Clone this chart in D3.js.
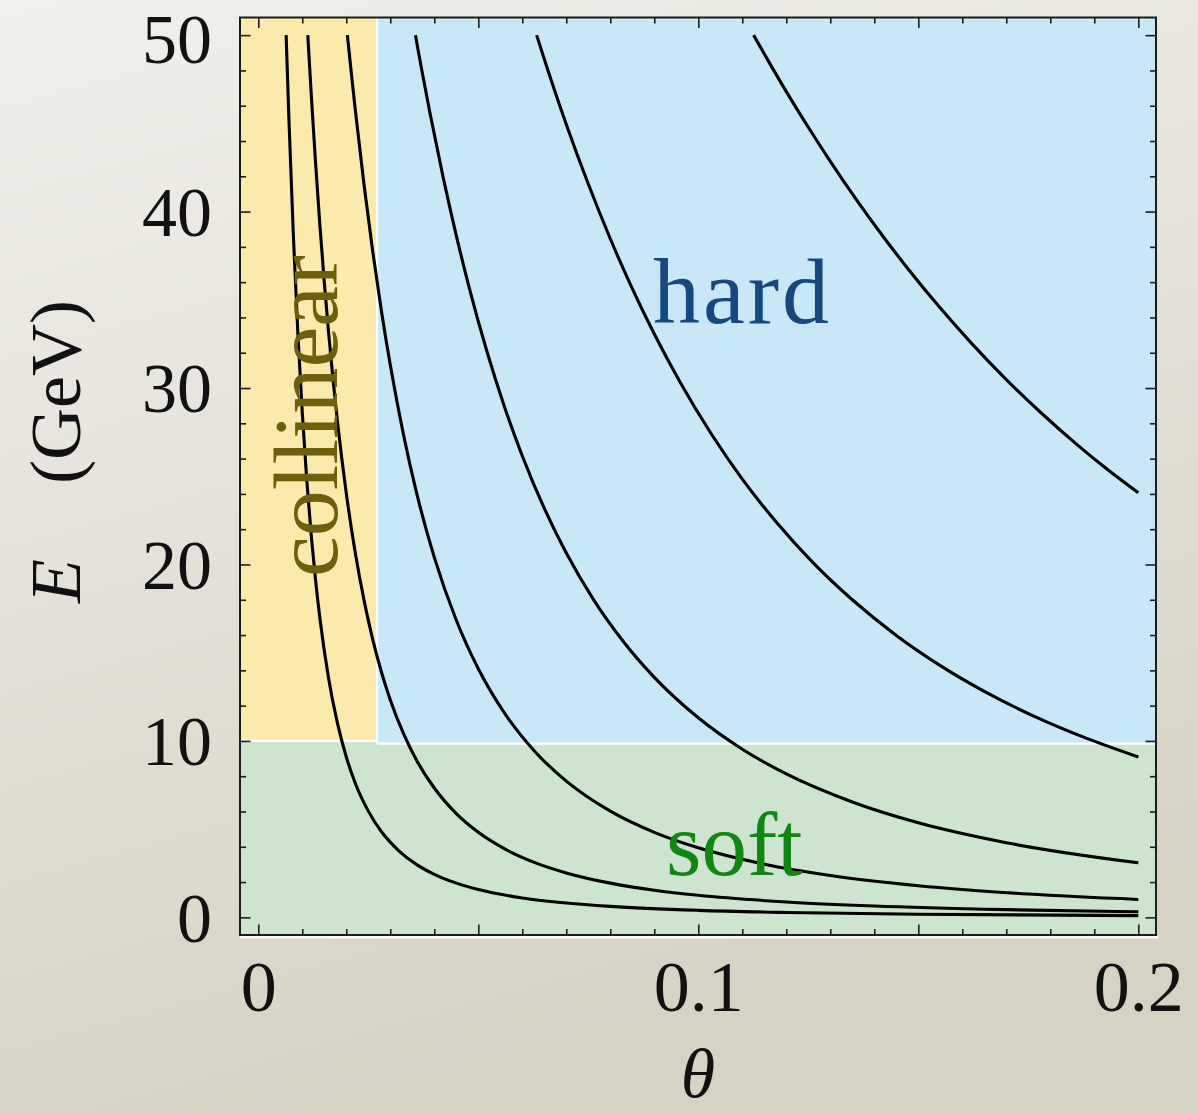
<!DOCTYPE html>
<html>
<head>
<meta charset="utf-8">
<script src="https://cdn.jsdelivr.net/npm/d3@7"></script>
<style>
  html, body { margin: 0; padding: 0; }
  svg { display: block; }
</style>
</head>
<body>
<svg id="chart" width="1198" height="1113"></svg>
<script>
// ---------- data : [theta, E] ----------
const curve1 = [[0.006325,50],[0.007,44.94],[0.008,38.46],[0.009,33.06],[0.010,28.57],[0.011,24.84],[0.012,21.74],[0.013,19.14],[0.014,16.95],[0.016,13.51],[0.018,10.99],[0.020,9.09],[0.022,7.63],[0.025,6.02],[0.028,4.85],[0.032,3.76],[0.036,2.99],[0.040,2.44],[0.045,1.94],[0.050,1.575],[0.060,1.099],[0.070,0.81],[0.080,0.621],[0.100,0.398],[0.120,0.277],[0.150,0.178],[0.200,0.10]];
const curve2 = [[0.011247,50],[0.012,46.77],[0.013,42.81],[0.014,39.22],[0.015,35.99],[0.016,33.07],[0.018,28.08],[0.020,24.03],[0.022,20.72],[0.024,18.01],[0.026,15.76],[0.028,13.89],[0.030,12.32],[0.033,10.41],[0.036,8.89],[0.040,7.33],[0.045,5.88],[0.050,4.82],[0.056,3.88],[0.063,3.09],[0.070,2.52],[0.080,1.94],[0.090,1.54],[0.100,1.25],[0.120,0.871],[0.140,0.641],[0.170,0.436],[0.200,0.315]];
const curve3 = [[0.020248,50],[0.021,48.18],[0.022,45.86],[0.024,41.58],[0.026,37.75],[0.028,34.34],[0.030,31.30],[0.033,27.35],[0.036,24.03],[0.040,20.40],[0.045,16.84],[0.050,14.09],[0.056,11.56],[0.063,9.36],[0.070,7.72],[0.080,6.02],[0.090,4.82],[0.100,3.94],[0.115,3.01],[0.130,2.37],[0.150,1.79],[0.175,1.32],[0.200,1.015]];
const curve4 = [[0.03571,50],[0.037,48.22],[0.039,45.60],[0.042,41.95],[0.045,38.64],[0.048,35.62],[0.052,32.04],[0.056,28.90],[0.060,26.15],[0.065,23.18],[0.070,20.65],[0.076,18.08],[0.083,15.62],[0.090,13.60],[0.100,11.31],[0.110,9.53],[0.120,8.13],[0.135,6.54],[0.150,5.36],[0.170,4.23],[0.200,3.09]];
const curve5 = [[0.063246,50],[0.066,47.87],[0.070,44.94],[0.075,41.56],[0.080,38.46],[0.085,35.63],[0.090,33.06],[0.096,30.27],[0.103,27.38],[0.110,24.84],[0.118,22.32],[0.126,20.12],[0.135,18.00],[0.145,15.98],[0.155,14.27],[0.165,12.81],[0.177,11.32],[0.188,10.17],[0.200,9.09]];
const curve6 = [[0.11256,50],[0.116,48.50],[0.120,46.80],[0.125,44.78],[0.130,42.85],[0.136,40.65],[0.142,38.59],[0.148,36.65],[0.155,34.53],[0.162,32.56],[0.170,30.48],[0.178,28.57],[0.186,26.81],[0.193,25.38],[0.200,24.06]];
const curves = [curve1, curve2, curve3, curve4, curve5, curve6];

const thetaCollinear = 0.027;    // collinear / hard boundary
const eSoft = 10;                // soft boundary (yellow side)
const eSoftHard = 9.85;          // soft boundary (blue side)

const xMajorTicks = [0, 0.05, 0.1, 0.15, 0.2];
const xTickLabels = [0, 0.1, 0.2];
const xMinorTicks = [0.01,0.02,0.03,0.04,0.06,0.07,0.08,0.09,0.11,0.12,0.13,0.14,0.16,0.17,0.18,0.19];
const yMajorTicks = [0, 10, 20, 30, 40, 50];
const yMinorTicks = [2,4,6,8,12,14,16,18,22,24,26,28,32,34,36,38,42,44,46,48];

const regionLabels = ["collinear", "hard", "soft"];

// ---------- layout ----------
const W = 1198, H = 1113;
const L = 240, R = 1156, T = 17.5, B = 935;
const svg = d3.select("#chart");
const serif = "'Liberation Serif', 'DejaVu Serif', serif";

const defs = svg.append("defs");
const grad = defs.append("linearGradient").attr("id", "bg")
  .attr("x1", 0).attr("y1", 0).attr("x2", 0.3).attr("y2", 1);
grad.append("stop").attr("offset", "0%").attr("stop-color", "#f1f0eb");
grad.append("stop").attr("offset", "100%").attr("stop-color", "#d6d3c5");
defs.append("clipPath").attr("id", "plotclip").append("rect")
  .attr("x", L).attr("y", T).attr("width", R - L).attr("height", B - T);

svg.append("rect").attr("width", W).attr("height", H).attr("fill", "url(#bg)");

const x = d3.scaleLinear().domain([-0.00416, 0.20402]).range([L, R]);
const y = d3.scaleLinear().domain([-1, 51]).range([B, T]);
const x0 = x.domain()[0], x1 = x.domain()[1];

// ---------- regions ----------
const plot = svg.append("g").attr("clip-path", "url(#plotclip)");
plot.append("rect").attr("x", x(x0)).attr("y", y(eSoft)).attr("width", x(x1) - x(x0))
  .attr("height", y(-1) - y(eSoft)).attr("fill", "#cde5ce");
plot.append("rect").attr("x", x(x0)).attr("y", y(51)).attr("width", x(thetaCollinear) - x(x0))
  .attr("height", y(eSoft) - y(51)).attr("fill", "#fce9ac");
plot.append("rect").attr("x", x(thetaCollinear)).attr("y", y(51)).attr("width", x(x1) - x(thetaCollinear))
  .attr("height", y(eSoftHard) - y(51)).attr("fill", "#c8e8f8");
// white separators
const sep = plot.append("g").attr("stroke", "#ffffff").attr("stroke-width", 2.2).attr("fill", "none");
sep.append("line").attr("x1", x(thetaCollinear)).attr("x2", x(thetaCollinear)).attr("y1", y(51)).attr("y2", y(eSoftHard));
sep.append("line").attr("x1", x(x0)).attr("x2", x(thetaCollinear)).attr("y1", y(eSoft)).attr("y2", y(eSoft));
sep.append("line").attr("x1", x(thetaCollinear)).attr("x2", x(x1)).attr("y1", y(eSoftHard)).attr("y2", y(eSoftHard));

// ---------- region labels ----------
svg.append("text").text(regionLabels[0])
  .attr("transform", `translate(337,577) rotate(-90)`)
  .attr("font-family", serif).attr("font-size", 92).attr("fill", "#6e5f0c");
svg.append("text").text(regionLabels[1])
  .attr("x", 653).attr("y", 323)
  .attr("font-family", serif).attr("font-size", 94).attr("fill", "#17477f")
  .attr("textLength", 176).attr("lengthAdjust", "spacing");
svg.append("text").text(regionLabels[2])
  .attr("x", 666).attr("y", 875)
  .attr("font-family", serif).attr("font-size", 91).attr("fill", "#128612");

// ---------- curves ----------
const line = d3.line().x(d => x(d[0])).y(d => y(d[1])).curve(d3.curveMonotoneX);
plot.append("g").selectAll("path").data(curves).join("path")
  .attr("d", line).attr("fill", "none").attr("stroke", "#000").attr("stroke-width", 3.1)
  .attr("stroke-linejoin", "round").attr("stroke-linecap", "butt");

// ---------- axes / ticks ----------
const fmt = d => d === 0 ? "0" : String(d);
function styleAxis(g, size) {
  g.select(".domain").remove();
  g.selectAll(".tick line").attr("stroke", "#1c1c1c").attr("stroke-width", 1.6);
  g.selectAll(".tick text").attr("font-family", serif).attr("font-size", size || 72).attr("fill", "#111");
  g.attr("font-family", null).attr("font-size", null);
}
const yLab = svg.append("g").attr("transform", `translate(${L},0)`)
  .call(d3.axisLeft(y).tickValues(yMajorTicks).tickSize(-10.5).tickPadding(28).tickFormat(fmt))
  .call(g => styleAxis(g, 70));
yLab.selectAll(".tick text").attr("dy", "0.34em")
  .attr("transform", d => d === 50 ? "translate(0,4)" : null);
svg.append("g").attr("transform", `translate(${L},0)`)
  .call(d3.axisLeft(y).tickValues(yMinorTicks).tickSize(-6).tickFormat("")).call(styleAxis);
svg.append("g").attr("transform", `translate(${R},0)`)
  .call(d3.axisRight(y).tickValues(yMajorTicks).tickSize(-10.5).tickFormat("")).call(styleAxis);
svg.append("g").attr("transform", `translate(${R},0)`)
  .call(d3.axisRight(y).tickValues(yMinorTicks).tickSize(-6).tickFormat("")).call(styleAxis);
svg.append("g").attr("transform", `translate(0,${B})`)
  .call(d3.axisBottom(x).tickValues(xMajorTicks).tickSize(-10.5).tickPadding(25)
    .tickFormat(d => xTickLabels.includes(d) ? fmt(d) : "")).call(g => styleAxis(g, 72));
svg.append("g").attr("transform", `translate(0,${B})`)
  .call(d3.axisBottom(x).tickValues(xMinorTicks).tickSize(-6).tickFormat("")).call(styleAxis);
svg.append("g").attr("transform", `translate(0,${T})`)
  .call(d3.axisTop(x).tickValues(xMajorTicks).tickSize(-10.5).tickFormat("")).call(styleAxis);
svg.append("g").attr("transform", `translate(0,${T})`)
  .call(d3.axisTop(x).tickValues(xMinorTicks).tickSize(-6).tickFormat("")).call(styleAxis);

// frame
svg.append("line").attr("x1", L).attr("x2", R + 2).attr("y1", B + 2.2).attr("y2", B + 2.2)
  .attr("stroke", "#ffffff").attr("stroke-width", 2);
svg.append("rect").attr("x", L).attr("y", T).attr("width", R - L).attr("height", B - T)
  .attr("fill", "none").attr("stroke", "#1c1c1c").attr("stroke-width", 2);

// ---------- axis titles ----------
svg.append("text").text("E")
  .attr("transform", `translate(80,603) rotate(-90)`)
  .attr("font-family", serif).attr("font-style", "italic").attr("font-size", 72).attr("fill", "#111");
svg.append("text").text("(GeV)")
  .attr("transform", `translate(80,300) rotate(-90)`).attr("text-anchor", "end")
  .attr("font-family", serif).attr("font-size", 72).attr("fill", "#111");
svg.append("text").text("θ")
  .attr("x", 698).attr("y", 1097).attr("text-anchor", "middle")
  .attr("font-family", serif).attr("font-style", "italic").attr("font-size", 70).attr("fill", "#111");
</script>
</body>
</html>
